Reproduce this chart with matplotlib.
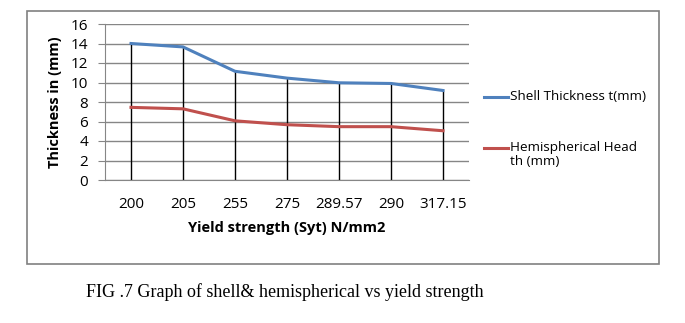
import numpy as np
import matplotlib.pyplot as plt
from matplotlib.patches import Rectangle
from matplotlib.lines import Line2D

yield_strength = ['200', '205', '255', '275', '289.57', '290', '317.15']
shell_t = [14.0, 13.65, 11.15, 10.45, 9.97, 9.9, 9.18]
head_th = [7.45, 7.3, 6.07, 5.67, 5.47, 5.47, 5.05]
series_names = ['Shell Thickness t(mm)', 'Hemispherical Head\nth (mm)']

blue = '#4F81BD'
red = '#C0504D'
font = 'Open Sans'

fig = plt.figure(figsize=(6.85, 3.23), dpi=100)
W, H = 685, 323

# outer chart frame
fig.patches.append(Rectangle((27 / W, 1 - 264 / H), (659 - 27) / W, (264 - 11) / H,
                             transform=fig.transFigure, fill=False,
                             edgecolor='#808080', linewidth=1.2))

ax = fig.add_axes([105 / W, 1 - 180 / H, (469 - 105) / W, (180 - 24) / H])
x = np.arange(len(yield_strength))

ax.vlines(x, 0, shell_t, color='black', linewidth=1.0, zorder=2)
l1, = ax.plot(x, shell_t, color=blue, linewidth=2.2, zorder=3)
l2, = ax.plot(x, head_th, color=red, linewidth=2.2, zorder=3)

ax.set_xlim(-0.5, len(x) - 0.5)
ax.set_ylim(0, 16)
ax.set_yticks(range(0, 17, 2))
ax.set_xticks(x)
ax.set_xticklabels(yield_strength)
ax.grid(axis='y', color='#868686', linewidth=1.0)
ax.set_axisbelow(True)
for s in ['top', 'right']:
    ax.spines[s].set_visible(False)
for s in ['left', 'bottom']:
    ax.spines[s].set_color('#868686')
ax.tick_params(axis='y', length=5, color='#868686', labelsize=11, pad=7)
ax.tick_params(axis='x', length=0, labelsize=11, pad=12)
for lab in ax.get_xticklabels() + ax.get_yticklabels():
    lab.set_family(font)

ax.set_xlabel('Yield strength (Syt) N/mm2', fontsize=10.5, fontweight='bold',
              family=font, labelpad=7)
ax.set_ylabel('Thickness in (mm)', fontsize=10.5, fontweight='bold',
              family=font, labelpad=6)

# legend, laid out like the spreadsheet one
for line, name, yp in [(l1, series_names[0], 97), (l2, series_names[1], 148)]:
    fig.add_artist(Line2D([484 / W, 508 / W], [1 - yp / H] * 2,
                          color=line.get_color(), linewidth=2.2))
    fig.text(510 / W, 1 - (yp - 7) / H, name, family=font, fontsize=9.7,
             va='top', ha='left', linespacing=1.15)

fig.text(86 / W, 1 - 292 / H, 'FIG .7 Graph of shell& hemispherical vs yield strength',
         family='Liberation Serif', fontsize=13, va='center', ha='left')

fig.savefig('out.png', dpi=100)
